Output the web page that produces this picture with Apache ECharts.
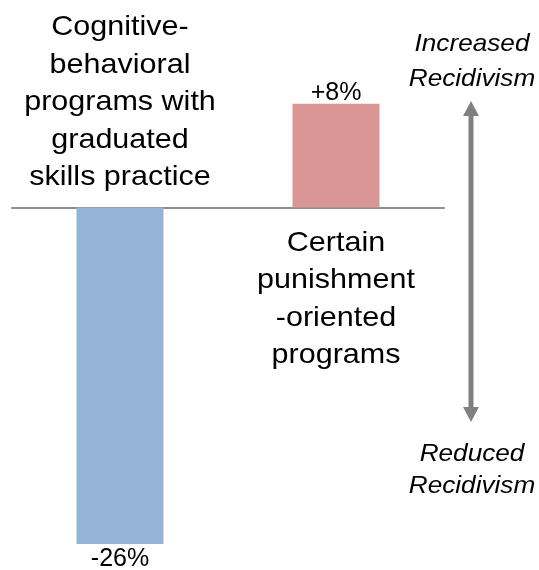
<!DOCTYPE html>
<html>
<head>
<meta charset="utf-8">
<script src="https://cdn.jsdelivr.net/npm/echarts@6/dist/echarts.min.js"></script>
<style>
  html, body { margin: 0; padding: 0; background: #fff; }
  #main { width: 539px; height: 570px; }
</style>
</head>
<body>
<div id="main"></div>
<script>
var categories = ['Cognitive-\nbehavioral\nprograms with\ngraduated\nskills practice', 'Certain\npunishment\n-oriented\nprograms'];
var values = [-26, 8];
var barColors = ['#95B3D7', '#D99694'];
var upText = 'Increased\nRecidivism';
var downText = 'Reduced\nRecidivism';

var FONT = '"Liberation Sans", Arial, sans-serif';
var myChart = echarts.init(document.getElementById('main'));

var option = {
    animation: false,
    grid: { left: 12, right: 95, top: 52, bottom: 13 },
    xAxis: {
        type: 'category',
        data: categories,
        axisLine: { onZero: true, lineStyle: { color: '#8c8c8c', width: 2 } },
        axisTick: { show: false },
        axisLabel: { show: false }
    },
    yAxis: {
        type: 'value',
        min: -27,
        max: 12,
        show: false
    },
    series: [{
        type: 'bar',
        barWidth: 87,
        data: values.map(function (v, i) {
            return {
                value: v,
                itemStyle: { color: barColors[i] },
                label: { position: v < 0 ? 'bottom' : 'top', distance: v < 0 ? 3 : -2 }
            };
        }),
        label: {
            show: true,
            fontFamily: FONT,
            fontSize: 25,
            color: '#000',
            formatter: function (p) { return (p.value > 0 ? '+' : '') + p.value + '%'; }
        }
    }]
};
myChart.setOption(option);

// category names sit beside the bars, arrow + captions on the right
var xLeft = myChart.convertToPixel({ xAxisIndex: 0 }, 0);
var xRight = myChart.convertToPixel({ xAxisIndex: 0 }, 1);
var yZero = myChart.convertToPixel({ yAxisIndex: 0 }, 0);
var arrowX = 471, arrowTop = 101, arrowBot = 422;
var stretch = 1.09; // source text is slightly wider than Liberation Sans

myChart.setOption({
    graphic: [
        {
            type: 'text', x: xLeft, y: yZero - 11, scaleX: stretch,
            style: { text: categories[0], font: '28px ' + FONT, fill: '#000', align: 'center', verticalAlign: 'bottom', lineHeight: 37.5 }
        },
        {
            type: 'text', x: xRight, y: yZero + 17, scaleX: stretch,
            style: { text: categories[1], font: '28px ' + FONT, fill: '#000', align: 'center', verticalAlign: 'top', lineHeight: 37.5 }
        },
        {
            type: 'text', x: 472, y: 27, scaleX: stretch,
            style: { text: upText, font: 'italic 24px ' + FONT, fill: '#000', align: 'center', verticalAlign: 'top', lineHeight: 35 }
        },
        {
            type: 'text', x: 472, y: 438, scaleX: stretch,
            style: { text: downText, font: 'italic 24px ' + FONT, fill: '#000', align: 'center', verticalAlign: 'top', lineHeight: 32 }
        },
        {
            type: 'rect',
            shape: { x: arrowX - 2.5, y: arrowTop + 12, width: 5, height: arrowBot - arrowTop - 24 },
            style: { fill: '#808080' }
        },
        {
            type: 'polygon',
            shape: { points: [[arrowX, arrowTop], [arrowX - 8, arrowTop + 15], [arrowX + 8, arrowTop + 15]] },
            style: { fill: '#808080' }
        },
        {
            type: 'polygon',
            shape: { points: [[arrowX, arrowBot], [arrowX - 8, arrowBot - 15], [arrowX + 8, arrowBot - 15]] },
            style: { fill: '#808080' }
        }
    ]
});
</script>
</body>
</html>
